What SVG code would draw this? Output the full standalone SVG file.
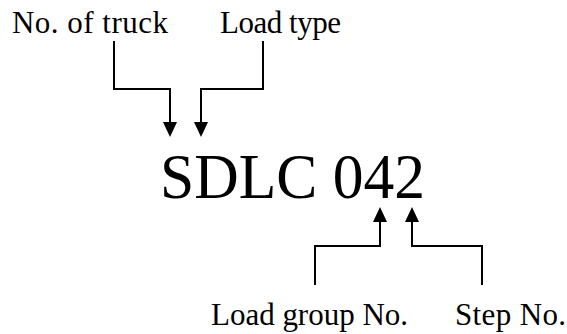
<svg xmlns="http://www.w3.org/2000/svg" width="567" height="334" viewBox="0 0 567 334">
<rect width="567" height="334" fill="#fff"/>
<g id="code"><text x="160" y="198" style="font-family:'Liberation Serif',serif;font-size:64px" textLength="265" lengthAdjust="spacingAndGlyphs" fill="#000">SDLC 042</text></g>
<g id="truck"><text x="12" y="33" style="font-family:'Liberation Serif',serif;font-size:31px" textLength="156" fill="#000">No. of truck</text></g>
<g id="loadtype"><text x="220" y="33" style="font-family:'Liberation Serif',serif;font-size:31px" textLength="121" fill="#000">Load type</text></g>
<g id="loadgroup"><text x="211" y="325" style="font-family:'Liberation Serif',serif;font-size:31px" textLength="197" fill="#000">Load group No.</text></g>
<g id="step"><text x="455" y="325" style="font-family:'Liberation Serif',serif;font-size:31px" textLength="111" fill="#000">Step No.</text></g>
<g id="connectors" fill="none" stroke="#000" stroke-width="2">
<polyline points="114,41 114,89 170,89 170,124"/>
<polygon points="163,122 177,122 170,137" fill="#000" stroke="none"/>
<polyline points="263,41 263,89 201,89 201,124"/>
<polygon points="194,122 208,122 201,137" fill="#000" stroke="none"/>
<polyline points="315,285 315,246 380,246 380,220"/>
<polygon points="373,222 387,222 380,207" fill="#000" stroke="none"/>
<polyline points="482,285 482,246 412,246 412,220"/>
<polygon points="405,222 419,222 412,207" fill="#000" stroke="none"/>
</g>
</svg>
